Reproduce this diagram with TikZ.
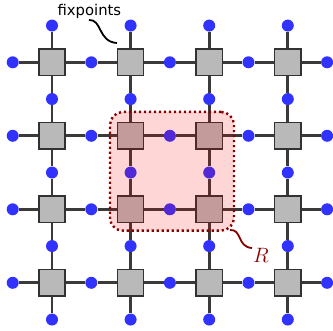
\documentclass[tikz,border=0pt]{standalone}
\usepackage{fontspec}
\newfontfamily\labelfont{DejaVu Sans}
\definecolor{edgegray}{RGB}{58,58,58}
\definecolor{boxgray}{RGB}{185,185,185}
\definecolor{boxborder}{RGB}{50,50,50}
\definecolor{dotblue}{RGB}{50,50,255}
\definecolor{regred}{RGB}{135,0,0}
\tikzset{
  fixbox/.style={rectangle, minimum size=26.3pt, inner sep=0pt, fill=boxgray, draw=boxborder, line width=1.4pt},
  bluedot/.style={circle, minimum size=12pt, inner sep=0pt, fill=dotblue},
  bond/.style={draw=edgegray, line width=2.8pt},
  region/.style={rectangle, rounded corners=13pt, inner sep=0pt, fill=red, fill opacity=0.16, draw=regred, line width=2.4pt, dash pattern=on 2.2pt off 2.8pt},
  squiggle/.style={line width=1.8pt}
}
\begin{document}
\begin{tikzpicture}[x=1pt,y=-1pt]
\useasboundingbox (0,0) rectangle (333,331);
% squares
\foreach \i in {1,...,4}{
  \foreach \j in {1,...,4}{
    \node[fixbox] (s\i\j) at ({52+78.6*(\i-1)},{62.3+73.5*(\j-1)}) {};
  }
}
% horizontal dots
\foreach \i in {0,...,4}{
  \foreach \j in {1,...,4}{
    \node[bluedot] (h\i\j) at ({52+78.6*(\i-0.5)},{62.3+73.5*(\j-1)}) {};
  }
}
% vertical dots
\foreach \i in {1,...,4}{
  \foreach \j in {0,...,4}{
    \node[bluedot] (v\i\j) at ({52+78.6*(\i-1)},{62.3+73.5*(\j-0.5)}) {};
  }
}
% bonds
\foreach \i in {1,...,4}{
  \foreach \j in {1,...,4}{
    \pgfmathtruncatemacro{\ip}{\i-1}
    \pgfmathtruncatemacro{\jp}{\j-1}
    \draw[bond] (s\i\j) -- (h\ip\j);
    \draw[bond] (s\i\j) -- (h\i\j);
    \draw[bond] (s\i\j) -- (v\i\jp);
    \draw[bond] (s\i\j) -- (v\i\j);
  }
}
% region R
\node[region, minimum width=124pt, minimum height=118.7pt] (reg) at (172,171.3) {};
\coordinate (rstart) at (230,230);
\node[text=regred, inner sep=0pt] (Rlab) at (261,255.5) {\fontsize{20}{22}\selectfont$R$};
\coordinate (rend) at (252,248);
\draw[squiggle, regred] (rstart) .. controls (242,229) and (237,247) .. (rend);
% fixpoints label
\node[anchor=base, inner sep=0pt] (fixlab) at (89.4,15.5) {\labelfont\fontsize{14.8}{16}\selectfont fixpoints};
\coordinate (fstart) at (89,20);
\coordinate (fend) at (117,43);
\draw[squiggle] (fstart) .. controls (102,19) and (98,42) .. (fend);
\end{tikzpicture}
\end{document}
